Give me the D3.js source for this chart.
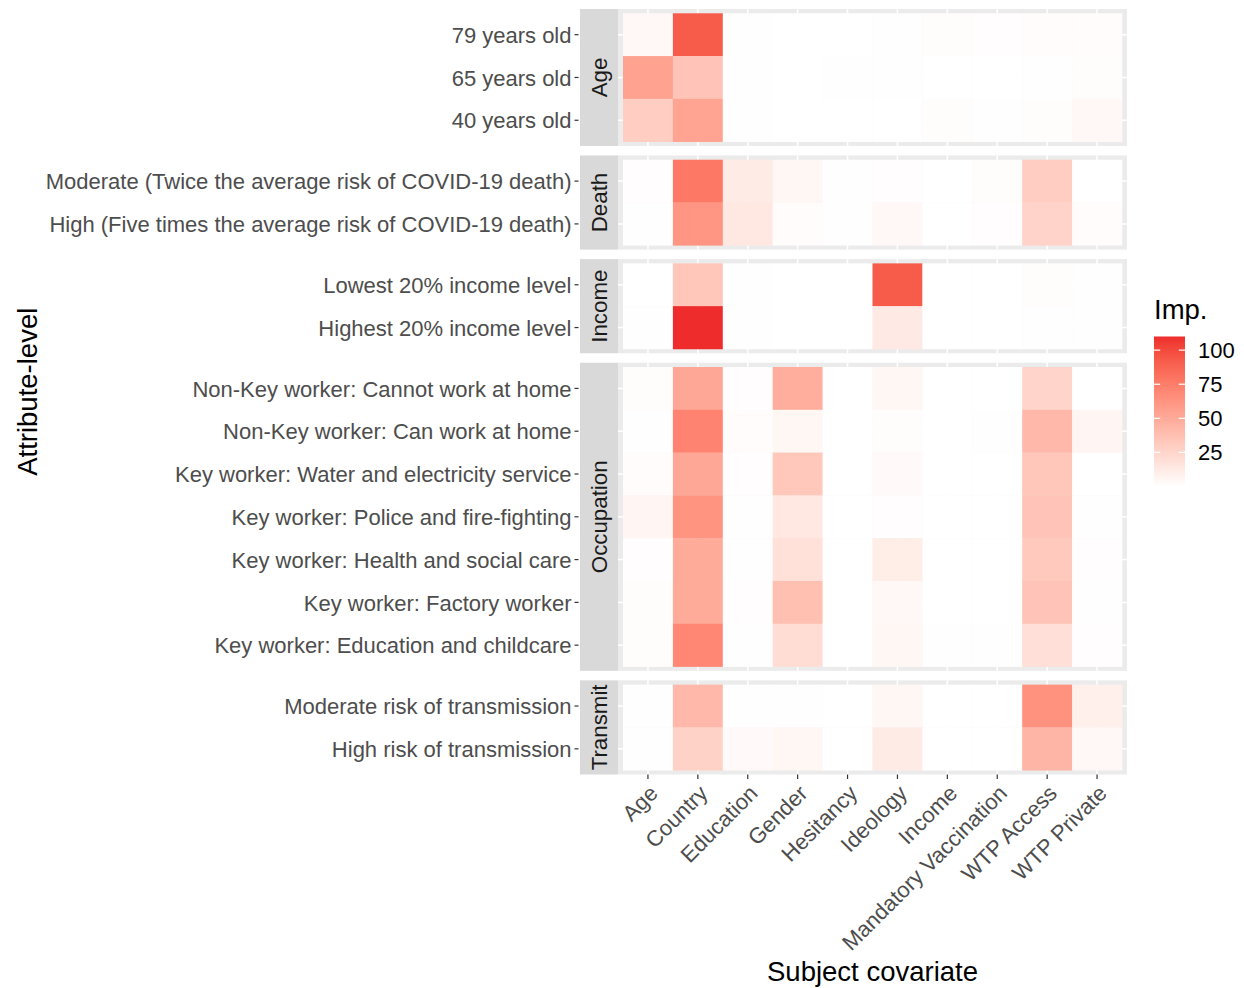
<!DOCTYPE html>
<html>
<head>
<meta charset="utf-8">
<script src="https://cdn.jsdelivr.net/npm/d3@7"></script>
<style>
  html, body { margin: 0; padding: 0; background: #ffffff; }
  svg { display: block; font-family: "Liberation Sans", Arial, Helvetica, sans-serif; }
</style>
</head>
<body>
<svg id="chart" width="1244" height="988"></svg>
<script>
// Subject covariates along the x axis
const covariates = ["Age", "Country", "Education", "Gender", "Hesitancy", "Ideology",
  "Income", "Mandatory Vaccination", "WTP Access", "WTP Private"];

// Attribute facets and their levels (top to bottom)
const facets = ["Age", "Death", "Income", "Occupation", "Transmit"];
const ageLevels = ["79 years old", "65 years old", "40 years old"];
const deathLevels = ["Moderate (Twice the average risk of COVID-19 death)",
  "High (Five times the average risk of COVID-19 death)"];
const incomeLevels = ["Lowest 20% income level", "Highest 20% income level"];
const occupationLevels = ["Non-Key worker: Cannot work at home", "Non-Key worker: Can work at home",
  "Key worker: Water and electricity service", "Key worker: Police and fire-fighting",
  "Key worker: Health and social care", "Key worker: Factory worker",
  "Key worker: Education and childcare"];
const transmitLevels = ["Moderate risk of transmission", "High risk of transmission"];

// Importance values, one row per level, one column per covariate
const ageImp = [
  [4, 92, 0.5, 0.2, 0.2, 0.4, 1.5, 1, 2, 2],
  [55, 35, 0.3, 0.2, 0.3, 0.6, 0, 0, 0.3, 1.5],
  [30, 54, 0.5, 0.2, 0.2, 0, 1.5, 0.5, 1.5, 4]
];
const deathImp = [
  [1, 78, 12, 5, 0.3, 1, 0, 1.5, 30, 0],
  [0.3, 62, 14, 2, 0.3, 4, 0, 1, 26, 2]
];
const incomeImp = [
  [0, 34, 0.5, 0, 0, 92, 0, 0, 1.5, 0.3],
  [0.5, 110, 0.5, 0, 0, 13, 0, 0, 0.3, 0.5]
];
const occupationImp = [
  [1.5, 52, 1, 48, 0, 5, 0, 0, 25, 0],
  [0.3, 72, 2, 5, 0, 1.5, 0, 0.5, 42, 6],
  [2, 52, 1, 33, 0, 3, 0, 0, 34, 0],
  [6, 63, 0.5, 14, 0, 1, 0, 0, 35, 0.3],
  [1, 50, 0.5, 18, 0, 11, 0, 0, 32, 1],
  [1.5, 50, 1, 38, 0, 4, 0, 0, 35, 0.3],
  [1.5, 70, 0.5, 20, 0, 5, 0.3, 0.3, 19, 1]
];
const transmitImp = [
  [0.3, 42, 0.3, 0.3, 0, 5, 0, 0, 64, 9],
  [0.3, 27, 3, 5, 0, 12, 0, 0, 44, 4]
];

// Colour bar breaks
const legendBreaks = [25, 50, 75, 100];

const facetLevels = [ageLevels, deathLevels, incomeLevels, occupationLevels, transmitLevels];
const facetValues = [ageImp, deathImp, incomeImp, occupationImp, transmitImp];

const svg = d3.select("#chart");
const fontFamily = "Liberation Sans, Arial, Helvetica, sans-serif";

// Panel geometry
const panelLeft = 618, panelRight = 1127;
const panelTop = 9, panelBottom = 774.5;
const gap = 9.5;
const stripW = 38;
const expand = 0.1; // discrete expansion (fraction of a tile) on each side

const axisFont = 22, stripFont = 22.3, titleFont = 27.5;

const totalUnits = d3.sum(facetLevels, l => l.length + 2 * expand);
const unit = (panelBottom - panelTop - gap * (facets.length - 1)) / totalUnits;
const xUnit = (panelRight - panelLeft) / (covariates.length + 2 * expand);

const x = d3.scaleBand()
  .domain(covariates)
  .range([panelLeft + expand * xUnit, panelRight - expand * xUnit])
  .padding(0);

const allValues = facetValues.flat(2);
const vMin = d3.min(allValues), vMax = d3.max(allValues);
const color = d3.scaleLinear()
  .domain([vMin, vMax])
  .range(["#FFFFFF", "#EE2C2C"])
  .interpolate(d3.interpolateLab);

const textGrey = "#4D4D4D";
const tickGrey = "#333333";

let yCursor = panelTop;
facets.forEach((facet, fi) => {
  const levels = facetLevels[fi];
  const vals = facetValues[fi];
  const h = unit * (levels.length + 2 * expand);
  const top = yCursor, bottom = yCursor + h;
  const y = d3.scaleBand()
    .domain(levels)
    .range([top + expand * unit, bottom - expand * unit])
    .padding(0);

  const g = svg.append("g");

  // panel background
  g.append("rect")
    .attr("x", panelLeft).attr("y", top)
    .attr("width", panelRight - panelLeft).attr("height", h)
    .attr("fill", "#EBEBEB");

  // major grid lines
  g.selectAll("line.gx").data(covariates).join("line")
    .attr("x1", d => x(d) + x.bandwidth() / 2).attr("x2", d => x(d) + x.bandwidth() / 2)
    .attr("y1", top).attr("y2", bottom)
    .attr("stroke", "#FFFFFF").attr("stroke-width", 1.5);
  g.selectAll("line.gy").data(levels).join("line")
    .attr("y1", d => y(d) + y.bandwidth() / 2).attr("y2", d => y(d) + y.bandwidth() / 2)
    .attr("x1", panelLeft).attr("x2", panelRight)
    .attr("stroke", "#FFFFFF").attr("stroke-width", 1.5);

  // tiles
  const cells = [];
  levels.forEach((lv, ri) => covariates.forEach((cv, ci) => cells.push({ lv, cv, v: vals[ri][ci] })));
  g.selectAll("rect.tile").data(cells).join("rect")
    .attr("x", d => x(d.cv)).attr("y", d => y(d.lv))
    .attr("width", x.bandwidth() + 0.3).attr("height", y.bandwidth() + 0.3)
    .attr("fill", d => color(d.v));

  // strip on the left
  g.append("rect")
    .attr("x", panelLeft - stripW).attr("y", top)
    .attr("width", stripW).attr("height", h)
    .attr("fill", "#D9D9D9");
  g.append("text")
    .attr("transform", `translate(${panelLeft - stripW / 2 + 7.8},${(top + bottom) / 2}) rotate(-90)`)
    .attr("text-anchor", "middle")
    .attr("font-size", stripFont)
    .attr("fill", "#1A1A1A")
    .text(facet);

  // y axis (left of the strip)
  const axisX = panelLeft - stripW - 1.5;
  const yAxis = d3.axisLeft(y).tickSize(4).tickPadding(3);
  const ay = g.append("g").attr("transform", `translate(${axisX},0)`).call(yAxis);
  ay.select(".domain").remove();
  ay.selectAll(".tick line").attr("stroke", tickGrey).attr("stroke-width", 1.2);
  ay.selectAll(".tick text")
    .attr("font-size", axisFont)
    .attr("font-family", fontFamily)
    .attr("dy", "0.37em")
    .attr("fill", textGrey);

  yCursor = bottom + gap;
});

// x axis under the last panel
const xAxis = d3.axisBottom(x).tickSize(4.5).tickPadding(0);
const ax = svg.append("g").attr("transform", `translate(0,${panelBottom})`).call(xAxis);
ax.select(".domain").remove();
ax.selectAll(".tick line").attr("stroke", tickGrey).attr("stroke-width", 1.2);
ax.selectAll(".tick text")
  .attr("font-size", axisFont)
  .attr("font-family", fontFamily)
  .attr("fill", textGrey)
  .attr("text-anchor", "end")
  .attr("y", 0).attr("dy", "0.72em")
  .attr("transform", "translate(0,9) rotate(-45)");

// axis titles
svg.append("text")
  .attr("x", (panelLeft + panelRight) / 2).attr("y", 981)
  .attr("text-anchor", "middle").attr("font-size", titleFont).attr("fill", "#000")
  .text("Subject covariate");
svg.append("text")
  .attr("transform", `translate(37,${(panelTop + panelBottom) / 2}) rotate(-90)`)
  .attr("text-anchor", "middle").attr("font-size", titleFont).attr("fill", "#000")
  .text("Attribute-level");

// colour bar legend
const barX = 1154, barW = 31, barTop = 336.5, barBottom = 486.5;
const legendScale = d3.scaleLinear().domain([vMin, vMax]).range([barBottom, barTop]);
const defs = svg.append("defs");
const grad = defs.append("linearGradient").attr("id", "impGrad")
  .attr("x1", 0).attr("y1", 1).attr("x2", 0).attr("y2", 0);
d3.range(0, 1.0001, 0.05).forEach(t => {
  grad.append("stop").attr("offset", t).attr("stop-color", color(vMin + t * (vMax - vMin)));
});
svg.append("rect")
  .attr("x", barX).attr("y", barTop).attr("width", barW).attr("height", barBottom - barTop)
  .attr("fill", "url(#impGrad)");
const lg = svg.append("g");
legendBreaks.forEach(b => {
  const yy = legendScale(b);
  lg.append("line").attr("x1", barX).attr("x2", barX + barW / 5)
    .attr("y1", yy).attr("y2", yy).attr("stroke", "#FFFFFF").attr("stroke-width", 1.2);
  lg.append("line").attr("x1", barX + barW - barW / 5).attr("x2", barX + barW)
    .attr("y1", yy).attr("y2", yy).attr("stroke", "#FFFFFF").attr("stroke-width", 1.2);
  lg.append("text").attr("x", barX + barW + 13).attr("y", yy).attr("dy", "0.36em")
    .attr("font-size", axisFont).attr("fill", "#000").text(b);
});
svg.append("text").attr("x", 1154).attr("y", 319)
  .attr("font-size", titleFont).attr("fill", "#000").text("Imp.");
</script>
</body>
</html>
